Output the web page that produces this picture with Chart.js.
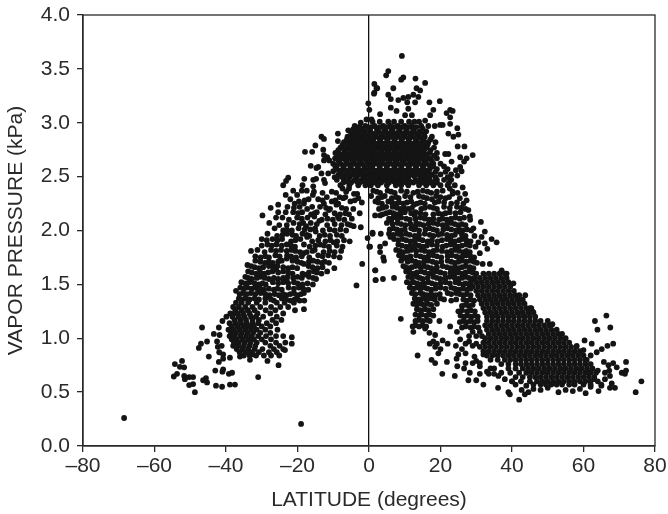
<!DOCTYPE html>
<html><head><meta charset="utf-8">
<style>html,body{margin:0;padding:0;background:#fff}canvas{display:block}</style>
<script src="https://cdn.jsdelivr.net/npm/chart.js@4"></script></head>
<body><canvas id="c" width="668" height="514"></canvas>
<script>
const xTicks=[-80,-60,-40,-20,0,20,40,60,80];
const yTicks=[0,0.5,1,1.5,2,2.5,3,3.5,4];
// outlying / fringe stations: [latitude, vapour pressure]
const fringeSouth=[[-68.5,.26],[-19,.205],[-48.7,.5],[-50.3,.565],[-49.2,.575],[-54.6,.645],[-53.7,.67],[-54.3,.76],[-52.9,.735],[-52.3,.79],[-51.7,.73],[-51.7,.65],[-51.5,.62],[-50.3,.64],[-49.2,.64],[-46.4,.61],[-45.3,.59],[-45.6,.63],[-42.8,.56],[-41.1,.55],[-38.9,.57],[-37.5,.57],[-43,.7],[-41,.69],[-40.8,.71],[-39.2,.67],[-38.3,.68],[-44.8,.83],[-42,.78],[-40.8,.81],[-38.9,.82],[-36.1,.83],[-33.3,.8],[-32.5,.85],[-28.4,.79],[-25.1,.84],[-25.3,.75],[-47.6,.91],[-47,.95],[-45.3,.97],[-46.7,1.1],[-43.4,1.04],[-42.5,.97],[-42.3,.92],[-41.2,.93],[-41.9,.87],[-40.8,.85],[-42,1.1],[-41,1.16],[-39.9,1.2],[-41.8,1.03],[-37.6,1.23],[-37.2,1.44],[-33,1.81],[-34,1.68],[-31,.64],[-21.6,1.01],[-23.5,.89],[-21.6,.95],[-18.2,1.27],[-18.1,1.35],[-20.7,1.26],[-20.2,1.37]];
const fringeRidge=[[1.5,3.36],[2.3,3.32],[1.5,3.28],[-.2,3.18],[.1,3.12],[-.7,3.03],[.7,3.03],[-2.3,3],[-3.5,2.96],[-4.4,2.94],[-5.8,2.93],[-8.7,2.9],[-8.7,2.83],[-13.3,2.87],[-12.6,2.85],[-15,2.79],[-17.9,2.73],[-15.9,2.73],[-12.8,2.75],[-12.6,2.7],[-11.7,2.68],[-11.1,2.65],[-12.6,2.65],[-16.3,2.6],[-14.7,2.58],[-14.2,2.59],[-22.6,2.49],[-23.2,2.46],[-24,2.42],[-18.1,2.48],[-15.6,2.47],[-14.8,2.48],[-18.6,2.42],[-15.6,2.41],[-12.6,2.47],[-12.3,2.44],[-13.3,2.53],[-11.4,2.53],[-10,2.55],[-23.3,2.33],[-21.2,2.37],[-25.4,2.24],[-27.5,2.21],[-29.8,2.14],[-26,2.12],[-25.4,2.17],[-1.9,1.69],[-9.7,1.65],[-11.7,1.62],[-3.5,1.49],[1.8,1.63],[1.8,1.54],[.1,1.85],[-.4,1.93],[1,1.98],[-2.3,2.03],[-2.6,2.16],[1.7,2.14],[3.1,2.14],[-3,2.3],[-2,2.26],
[9.2,3.62],[5.4,3.48],[4.8,3.44],[9.6,3.42],[9,3.4],[13,3.41],[15.7,3.37],[2.1,3.32],[1.4,3.27],[6.8,3.32],[13.3,3.32],[14.3,3.3],[12.4,3.26],[13.8,3.24],[5.4,3.26],[6.1,3.22],[8.2,3.21],[9.6,3.23],[11,3.24],[10.7,3.19],[12.9,3.19],[16.9,3.19],[19.8,3.2],[6.1,3.14],[7.7,3.11],[11,3.13],[18,3.12],[17.1,3.07],[22.7,3.12],[21.7,3.09],[23.4,3.11],[3.1,3.08],[10.1,3.07],[12,3.07],[22.7,3.05],[15.7,3.02],[20.6,2.98],[19.9,2.98],[22.7,2.99],[24.7,2.95],[22.2,2.9],[23.6,2.87],[25,2.89],[24.8,2.78],[26.7,2.78],[29,2.7],[27.3,2.67],[26.6,2.64],[25.5,2.68],[23.1,2.64],[21.3,2.71],[22.2,2.71],[25.5,2.59],[24.3,2.56],[25.9,2.55],[24.7,2.51],[26.2,2.4],[26.9,2.34],[27.3,2.28],[31.3,2.08],[29.2,2.02],[32.4,1.99],[31.5,1.94],[32.4,1.88],[33.1,1.83],[34.3,1.92],[35.7,1.89],[28.2,2.13],[1.7,1.63],[1.9,1.54],[3.9,1.55],[7,1.56],[1,1.97],[3.3,1.97],[.3,1.85],[3.1,1.85],[4.5,1.88],[3.1,1.8],[4,1.75],[4.2,1.72]];
const fringeNorth=[[8.9,1.18],[13.6,.84],[66.4,1.21],[63.2,1.16],[63.9,1.08],[67.5,1.1],[60.3,.98],[62.3,.95],[58.1,.93],[60,.89],[68.3,.95],[66.7,.93],[65.1,.9],[63.7,.87],[62,.84],[60.9,.8],[71.9,.78],[68.3,.77],[65.7,.78],[67,.75],[69.3,.73],[67.2,.7],[71.9,.7],[70.7,.68],[71.6,.67],[76.2,.6],[74.6,.5],[67.4,.65],[67.9,.58],[68.8,.54],[67.4,.54],[64.2,.51],[60.6,.49],[59,.53],[42,.43],[44.6,.5],[43.6,.48],[42.7,.52],[39.4,.48],[39,.5],[36.1,.54],[32,.57],[36.2,.65],[30,.61],[27.8,.61],[24,.65],[20.5,.67],[18.5,.77],[17.5,.8],[21.8,.78],[24.7,.74],[24.5,.81],[26.6,.72],[28.2,.68],[19.4,.86],[20,.9],[24.3,.93],[25.5,.99],[20.6,.98],[18,.97],[18.5,.92],[18.5,1.03],[16.9,1.05],[15.7,1.09],[12.4,1.06],[12.2,1.11],[22.7,1.11],[19.7,1.16],[43.7,1.4],[45.4,1.28],[45.7,1.25],[51.3,1.13],[40.4,1.51],[38.5,1.6],[37.1,1.63],[33.8,1.69],[26,.9],[27,.86],[29,.93],[28,.97],[30,.79],[31,.74],[29.5,.83],[33,.69],[34,.72],[37,.68],[38,.62],[40,.6],[41,.57],[44,.56],[46,.53],[48,.52],[50,.54],[53,.5],[55,.52],[57,.51],[62,.55],[65,.56],[66,.62],[63,.62],[61.5,.68],[64,.7],[66,.68],[17,.95],[19,.95],[22,.95],[27,.95],[30,.95],[25,.85],[32,.85],[27,.77],[29,.77],[31,.77],[35,.72],[31,.67],[33.5,.67],[35,.67]];
// scanned rows: [vapour pressure, latitudes read at about that level...]
const rowsSouthBand=[
[2.37,-18.8,-17.4],[2.35,-13,-9.2],[2.39,-7.4,-5.6],[2.33,-20.1,-15.7],[2.31,-11.8,-8.2,-6.6],[2.34,-4.2,-3.3],
[2.29,-22,-16.9,-14.2],[2.27,-19.6,-10.4,-5.2],[2.25,-20.8,-18.2,-12.6,-8.6],[2.3,-7.2],
[2.22,-22.8,-19.4,-15.9,-13.7],[2.2,-17.3,-10.9,-6.4,-4.4],[2.24,-9.1],
[2.17,-23.3,-21.2,-18.7,-14.6],[2.15,-16.2,-12.2,-8.1,-5.6],[2.19,-11.2],
[2.12,-24.2,-20.1,-17.2],[2.1,-22.4,-13.2,-10.1,-6.9],[2.13,-15.3,-8.7],
[2.07,-27.9,-21.1,-18.4,-16.3],[2.05,-25.1,-23,-11.7,-7.7,-5.2],[2.09,-13.9],
[2.02,-26.4,-19.7,-15.1],[2,-24,-21.6,-12.9,-9.6,-6.4],[2.04,-17.6,-4.3],
[1.97,-28.4,-22.9,-18.6],[1.95,-25.7,-20.4,-16.7,-13.8,-10.9,-7.6],[1.99,-14.9],
[1.92,-30,-27,-24.3,-19.2],[1.9,-21.8,-15.9,-12.2,-8.9,-5.4],[1.94,-17.3],
[1.87,-28.4,-25.9,-23,-18.2,-13.7],[1.85,-20.7,-16.6,-11.2,-7.4],[1.89,-9.9],
[1.82,-31.2,-27.4,-24.6,-21.7,-15.2],[1.8,-29.2,-19.3,-17.4,-12.7,-9.6],
[1.77,-26.2,-22.9,-14.2,-11.4],[1.75,-30.3,-28,-20.4,-16.7,-8.2],[1.79,-18.3],
[1.72,-31.8,-24.4,-21.4,-15.6],[1.7,-29.1,-26.9,-18.9,-13.2,-11.2],[1.74,-23],
[1.67,-33,-28,-25.6,-16.9],[1.65,-30.8,-22.6,-20.1,-14.4],[1.69,-18.2],
[1.62,-33.8,-27,-24,-15.4],[1.6,-31.6,-29.2,-21.4,-18.6,-13.3],[1.64,-26],
[1.57,-34.6,-30.4,-22.8,-20,-16.8],[1.55,-32.8,-28,-25.4,-14.8],[1.59,-17.9],
[1.52,-35.7,-33.4,-26.9,-24,-21],[1.5,-30.8,-28.9,-18.6,-15.7],[1.54,-23],
[1.47,-36,-34,-31.8,-22.5,-19.6],[1.45,-29.4,-26.6,-24.4,-17],
[1.42,-35.2,-33,-30.3,-21,-18.2],[1.4,-27.8,-25.2,-23.1,-20],[1.44,-31],
[1.37,-36.4,-34.6,-32,-29,-24.4],[1.35,-26.6,-22,-19.4],[1.39,-28]];
const rowsSouthExtra=[
[2.36,-15.4,-10.4,-6.4],[2.28,-18,-13,-9.4,-4],[2.21,-21,-12,-7.6],[2.16,-19.8,-15.2,-9.6,-6.6],
[2.11,-18.8,-11.6,-8.4,-4.8],[2.06,-19.4,-14.6,-9.6,-6],[2.01,-23,-18,-16.4,-11,-8],[1.96,-24.2,-21.4,-17.4,-12.4,-9],
[1.91,-28.6,-25.6,-20.6,-14.2,-10.8,-7],[1.86,-30,-27.2,-24.4,-21.8,-15,-12.6,-9],[1.81,-26,-23,-20.6,-15.8,-11,-7.8],
[1.76,-31.8,-29,-25,-21.8,-18.8,-13,-9.8],[1.71,-30.4,-28,-25.4,-20,-16.8,-14.4,-12.4],[1.66,-32,-29.6,-26.8,-24,-21.4,-15.8,-13],
[1.61,-32.8,-30.4,-28.2,-25.4,-22.6,-16.8,-14.6],[1.56,-33.8,-31.4,-29.2,-26.6,-24,-21.2,-18.8,-15.6],[1.51,-34.6,-32,-29.8,-25.4,-22.6,-20,-17.2],
[1.46,-35,-32.8,-30.4,-28,-25.6,-21,-18.4],[1.41,-36.2,-34.2,-31.8,-29,-26.4,-24,-22,-19],[1.36,-35.6,-33.4,-30.8,-27.4,-23.2,-20.8]];
const rowsSouthBlob=[
[1.33,-37.2,-35.6,-33.8,-31.4,-29,-25.8,-23.6,-21],
[1.29,-38,-36.4,-34.6,-32.6,-30.4,-27.4,-24.8,-22.6],
[1.26,-37.4,-35.6,-33.9,-32,-28.9,-26.2],
[1.23,-38.8,-36.8,-35.2,-33.4,-31.2,-27.6,-24],
[1.2,-38.2,-36.4,-34.8,-33,-31.6,-29.6,-25.8],
[1.17,-37.6,-36,-34.4,-32.6,-30.8,-27,-24.5],
[1.14,-39,-37.4,-35.8,-34.2,-32.6,-31,-28.6,-26],
[1.11,-38.4,-36.8,-35.2,-33.6,-32.2,-30,-27.6],
[1.08,-39.3,-37.8,-36.2,-34.6,-33,-31.4,-29,-25.6],
[1.05,-38.6,-37.2,-35.6,-34,-32.4,-30.4,-27.6],
[1.02,-39,-37.6,-36,-34.4,-32.8,-31,-28.8,-26,-24],
[.99,-38.4,-37,-35.4,-33.8,-32.2,-30,-27.4],
[.96,-37.8,-36.4,-34.8,-33.2,-31.4,-29,-26,-23.4],
[.93,-38,-36.6,-35,-33.4,-31.8,-27.6,-25],
[.9,-37,-35.4,-33.8,-32,-29.8,-26.6,-24],
[.87,-36.2,-34.6,-33,-30.8,-28,-25.8],
[.84,-35,-33.4,-31.6,-29.4,-27.4]];
const rowsRidgeCore=[
[3.01,1,3,5.4,7,9,11.2,12.7,14],
[2.97,-4,-1,1.6,4,6,8,10,12,14.6,16.6,18.4],
[2.92,-5,-3.2,-1.2,.4,2.6,4.6,6.6,8.6,10.6,12.6,14.2,16],
[2.87,-6,-4,-2,0,2,4,6,8,10,12,14,15.6,17.6],
[2.82,-7,-5,-3,-1,1,3,5,7,9,11,13,15,16.6,18.6],
[2.77,-8,-6,-4,-2,0,2,4,6,8,10,12,14,16,18.2],
[2.72,-9.4,-7,-5,-3,-1,1,3,5,7,9,11,13,15,17,19],
[2.67,-9.5,-7.5,-5.5,-3.5,-1.5,.5,2.5,4.5,6.5,8.5,10.5,12.5,14.5,17,19],
[2.62,-10,-8,-6,-4,-2,0,2,4,6,8,10,12,14,16,18,20],
[2.57,-9,-7,-5,-3,-1,1,3,5,7,9,11,13,15,17,19,22],
[2.52,-8.5,-6.5,-4.5,-2.5,-.5,1.5,3.5,5.5,7.5,9.5,11.5,13.5,15.5,17.5,20,23],
[2.47,-9,-7,-4,-2,0,2,4,6,8,10,13,15,17,19,21,23],
[2.42,-8,-5.5,-3,-1,.5,2.5,5,7.5,9,11,14,16,18,20,22,24]];
const rowsRidgeInfill=[
[2.945,-4,-2,0,2.2,4.2,6.3,8.4,10.4,12.3,15],
[2.895,-5,-3,-1,1.4,3.4,5.4,7.4,9.4,11.4,13.4,15.4],
[2.845,-6.2,-4.4,-2.4,-.4,1.2,3.2,5.2,7.2,9.2,11.2,13.4,15.2,17.2],
[2.795,-7.4,-5.2,-3.2,-1.2,.8,2.8,4.8,6.8,8.8,10.8,12.8,14.8,16.4],
[2.745,-8.6,-6.4,-4.4,-2.4,-.4,1.6,3.6,5.6,7.6,9.6,11.6,13.6,15.4,17.2],
[2.695,-8.8,-6.8,-4.8,-2.8,-.8,1.2,3.2,5.3,7.3,9.2,11.3,13.3,15.2,18.2],
[2.645,-8.4,-6.4,-4.6,-2.6,-.6,1.3,3.3,5.4,7.4,9.4,11.4,13.2,15.4,17.6],
[2.595,-9.4,-7.2,-5.2,-3.2,-1.3,.8,3,5,7.2,9,11.2,13.2,15.2,18,21],
[2.545,-7.8,-5.8,-3.8,-1.8,.4,2.4,4.4,6.4,8.4,10.4,12.4,14.6,16.6,18.6,21.4],
[2.495,-9.6,-7.4,-5.4,-3.4,-1.2,.8,2.8,4.8,6.8,8.8,11,14.4,16.4,18.6,22],
[2.445,-7.2,-5,-2.6,-.4,1.5,3.4,5.6,8.4,10.4,12.4,15,17,19,22.4]];
const rowsRidgeFill=[
[2.96,-2.6,.6,3,5,7,9.2,11,13.2],
[2.905,-4,-2,.3,2,4,6,8,10,12,14],
[2.855,-5,-3,-1,1,3,5,7,9,11,13,14.8],
[2.805,-6,-4,-2,0,2,4,6,8,10,12,14,15.6],
[2.755,-7,-5,-3,-1,1,3,5,7,9,11,13,15],
[2.705,-8,-6,-4,-2,0,2,4,6,8,10,12,14,16],
[2.655,-8.6,-6.5,-4.5,-2.5,-.5,1.5,3.5,5.5,7.5,9.5,11.5,13.5,16],
[2.605,-9,-7,-5,-3,-1,1,3,5,7,9,11,13,15,17],
[2.555,-8,-6,-4,-2,0,2,4,6,8,10,12,14,16],
[2.505,-8,-6,-3.6,-1.6,.3,2.4,4.4,6.4,8.4,10.4,12.6,15,17],
[2.455,-6,-3.4,-1.4,.7,3,5,7,9.4,11.4,13.6,16,18.4]];
const rowsNorthBand=[
[2.37,1.2,5.2,9,15.1,20.6],[2.35,3.1,7.2,12.4,17.4,24.8],[2.39,22.6],
[2.32,.6,4.4,10.1,14,18.8],[2.3,2.6,6.4,8.3,16.2,21.4,25.4],[2.34,23.4],
[2.27,1.8,5.4,11.8,19.4],[2.25,3.6,7.6,9.6,13.4,15.6,23,26.4],[2.29,17.6],
[2.22,4.8,6.6,17,21,24.6],[2.2,2.8,8.8,11,14.6,19,27],[2.24,12.6],
[2.17,5.8,10,13,22.6,25.6],[2.15,3.8,7.8,15.8,18,20.4],[2.19,27.8],
[2.12,6.8,9,14.4,24.2,26.6],[2.1,11.4,16.8,19.6,21.8,28.3],[2.14,12.8],
[2.07,5,8,13.2,18,23],[2.05,10.2,15.2,20.6,25,27],[2.09,6.2],
[2.02,6.8,11.8,17,22],[2,9,14,19,24.4,26.2,28.6],[2.04,13],
[1.97,5.6,8,10.4,15.6,20.4],[1.95,12.8,18,23,27,29.5],[1.99,25],
[1.92,7,9.4,14,21.8,26],[1.9,11.6,16.4,19.2,24,28.4],[1.94,6],
[1.87,8.2,13,17.6,22.8,27.2],[1.85,10.4,15,20.6,25,29.8],[1.89,30.6],
[1.82,7.6,11.8,14.6,19,24],[1.8,9.6,16.8,21.8,26.4,28.2],[1.84,12.6],
[1.77,8.4,13.2,18,23.2,27.2],[1.75,10.6,15.4,20.2,25.4,29.4],[1.79,31],
[1.72,9,12,16.6,22,26,28.4],[1.7,14,18.8,24,30.2],[1.74,10.4],
[1.67,9.6,13,15.4,20.6,27],[1.65,11,17.4,22.8,25,29.2],[1.69,31.8],
[1.62,10.4,14.6,19,24,28],[1.6,12.4,16.8,21.2,26,30],[1.64,18],
[1.57,11,13.4,18,22.6,27],[1.55,15,20,25,29],[1.59,23.8],
[1.52,10.6,12.4,16.6,21.4,24.2],[1.5,14.4,18.6,26.4,28],
[1.47,11.4,13.4,15.6,20,23],[1.45,17.4,25,27.4],
[1.42,12,14.4,22,24.4],[1.4,16.2,18.6,26.4,28.4],
[1.37,12.8,15,17.4,20],[1.35,13.6,23,27.4,29.4],
[1.32,12.4,14.6,16.4,19],[1.3,26,28],
[1.27,13.4,15.6,18],[1.25,25,27.4,29.6],
[1.22,13,14.8,17],[1.2,26.6,28.6,30.4],
[1.17,14,16.2],[1.15,25.4,27.4,29.4],
[1.12,13,15],[1.1,26,28.4,30.6],
[1.06,24.6,29,31],[1.02,28,30,31.6]];
const rowsNorthExtra=[
[2.36,2.2,6.2,10.6,13.6,16.4,19,23.4],[2.31,3.6,7.6,11.6,15.2,20,22.4],[2.26,2.6,6.4,8.4,10.6,14.4,18.4,21,24.6],
[2.21,3.8,7.8,9.8,12,15.6,18,22.6,25.8],[2.16,4.8,6.8,8.8,11.8,14.4,19.4,21.4,24.2],[2.11,5.6,8,10.4,13,15.6,18,20.6,23,25.4],
[2.06,6.6,9,11.6,14.2,16.6,19.2,21.8,24,26],[2.01,5.8,7.8,10,12.6,15.8,18,20.8,23,25.2,27.4],[1.96,6.8,9,11.4,14,17,19.4,21.8,24,26],
[1.91,8.2,10.4,12.8,15,17.6,20.4,22.8,25.2,27.2],[1.86,9.2,11.6,14,16.2,19,21.6,24,26,28.2],[1.81,8.6,10.8,13.2,15.6,18,20.4,23,25.2,27.2],
[1.76,9.4,11.6,14.4,16.6,19,22,24.4,26.2,28.4],[1.71,10.8,13,15.4,17.8,20.2,23,25,27.2,29.4],[1.66,10.2,12,14.4,16.4,19,21.8,24,26,28.2],
[1.61,11.4,13.4,15.6,18,20,22.8,25,27,29],[1.56,12,14.2,16.4,19,21.4,24,26,28],[1.51,11.6,13.4,15.4,17.6,20,22.6,25.2,27],
[1.46,12.4,14.4,16.4,18.6,21.4,24,26.2,28.4],[1.41,13,15.2,17.4,19.8,23,25.4,27.4],[1.36,14,16,18.4,21,24.4,26.4,28.4],
[1.31,13.4,15.4,17.4,27,29],[1.26,14.4,16.6,26,28.4],[1.21,14,16,18,25.6,27.6,29.6],[1.16,13,15,17,26.4,28.4,30.4],[1.11,14,16,27,29.4]];
const rowsNorthDense=[
[1.6,32,33.5,35,36.5,38],
[1.56,29.5,31,32.5,34,35.5,37,38.5],
[1.52,28.5,30,31.5,33,34.5,36,37.5,39],
[1.48,29,30.5,32,33.5,35,36.5,38,39.5],
[1.44,30,31.5,33,34.5,36,37.5,39,40.5],
[1.4,30.5,32,33.5,35,36.5,38,39.5,41,42],
[1.36,31,32.5,34,35.5,37,38.5,40,41.5,43],
[1.32,31.5,33,34.5,36,37.5,39,40.5,42,43.5],
[1.28,32,33.5,35,36.5,38,39.5,41,42.5,44,45],
[1.24,32.5,34,35.5,37,38.5,40,41.5,43,44.5,46],
[1.2,33,34.5,36,37.5,39,40.5,42,43.5,45,46.5],
[1.16,33,34.5,36,37.5,39,40.5,42,43.5,45,46.5,48,50],
[1.12,32.5,34,35.5,37,38.5,40,41.5,43,44.5,46,47.5,49,50.5],
[1.08,33,34.5,36,37.5,39,40.5,42,43.5,45,46.5,48,49.5,51,52.5],
[1.04,33.5,35,36.5,38,39.5,41,42.5,44,45.5,47,48.5,50,51.5,53,54],
[1,32.5,34,35.5,37,38.5,40,41.5,43,44.5,46,47.5,49,50.5,52,53.5,55],
[.96,32,33.5,35,36.5,38,39.5,41,42.5,44,45.5,47,48.5,50,51.5,53,54.5,56],
[.92,31,32.5,34,35.5,37,38.5,40,41.5,43,44.5,46,47.5,49,50.5,52,53.5,55,56.5,58],
[.88,32,33.5,35,36.5,38,39.5,41,42.5,44,45.5,47,48.5,50,51.5,53,54.5,56,57.5,59],
[.84,33,34.5,36,37.5,39,40.5,42,43.5,45,46.5,48,49.5,51,52.5,54,55.5,57,58.5,60],
[.8,34,36,38,39.5,41,42.5,44,45.5,47,48.5,50,51.5,53,54.5,56,57.5,59,60.5],
[.76,37,39,41,42.5,44,45.5,47,48.5,50,51.5,53,54.5,56,57.5,59,60.5,62],
[.72,39,41,43,44.5,46,47.5,49,50.5,52,53.5,55,56.5,58,59.5,61,62.5],
[.68,39.5,42,44,45.5,47,48.5,50,51.5,53,54.5,56,57.5,59,60.5,62,63.5],
[.64,41,43,45,46.5,48,49.5,51,52.5,54,55.5,57,58.5,60,61.5,63],
[.6,40,42.5,45,47,48.5,50,51.5,53,54.5,56,57.5,59,60.5,62,64],
[.57,46,48,49.5,51,52.5,54,56,57.5,60,62,65]];

const points=[];
[fringeSouth,fringeRidge,fringeNorth].forEach(list=>list.forEach(p=>points.push({x:p[0],y:p[1]})));
[rowsSouthBand,rowsSouthExtra,rowsSouthBlob,rowsRidgeCore,rowsRidgeInfill,rowsRidgeFill,rowsNorthBand,rowsNorthExtra,rowsNorthDense].forEach(rows=>rows.forEach(r=>{
  r.slice(1).forEach(lat=>points.push({x:lat,y:r[0]}));
}));

const ink='#2a2a2a';
const framePlugin={id:'frame',afterDatasetsDraw(c){
  const a=c.chartArea,g=c.ctx;g.save();g.strokeStyle=ink;g.lineWidth=1.3;
  g.strokeRect(a.left,a.top,a.right-a.left,a.bottom-a.top);g.restore();}};
new Chart(document.getElementById('c'),{
  type:'scatter',
  data:{datasets:[{data:points,pointRadius:2.9,pointHoverRadius:2.9,pointBackgroundColor:'#141414',pointBorderWidth:0}]},
  plugins:[framePlugin],
  options:{responsive:false,animation:false,
    layout:{padding:{top:15,right:13,left:0,bottom:0}},
    plugins:{legend:{display:false},tooltip:{enabled:false}},
    scales:{
      x:{type:'linear',min:-80,max:80,afterFit(s){s.height=68;s.paddingLeft=0;s.paddingRight=0},
        afterBuildTicks(s){s.ticks=xTicks.map(v=>({value:v}))},
        grid:{drawOnChartArea:true,color:c=>c.tick&&c.tick.value===0?'#111':'rgba(0,0,0,0)',tickColor:ink,tickLength:6,lineWidth:1.3},
        border:{display:true,color:ink,width:1.3},
        ticks:{color:ink,padding:2,maxRotation:0,font:{family:'"Liberation Sans"',size:21},callback:v=>v<0?'–'+Math.abs(v):''+v},
        title:{display:true,text:'LATITUDE (degrees)',color:ink,font:{family:'"Liberation Sans"',size:21},padding:{top:0,bottom:1}}},
      y:{type:'linear',min:0,max:4,afterFit(s){s.width=83;s.paddingTop=0;s.paddingBottom=0},
        afterBuildTicks(s){s.ticks=yTicks.map(v=>({value:v}))},
        grid:{drawOnChartArea:false,tickColor:ink,tickLength:6,lineWidth:1.3},
        border:{display:true,color:ink,width:1.3},
        ticks:{color:ink,padding:7,font:{family:'"Liberation Sans"',size:21},callback:v=>v.toFixed(1)},
        title:{display:true,text:'VAPOR PRESSURE (kPa)',color:ink,font:{family:'"Liberation Sans"',size:21},padding:{top:4,bottom:0}}}
    }}
});
</script></body></html>
